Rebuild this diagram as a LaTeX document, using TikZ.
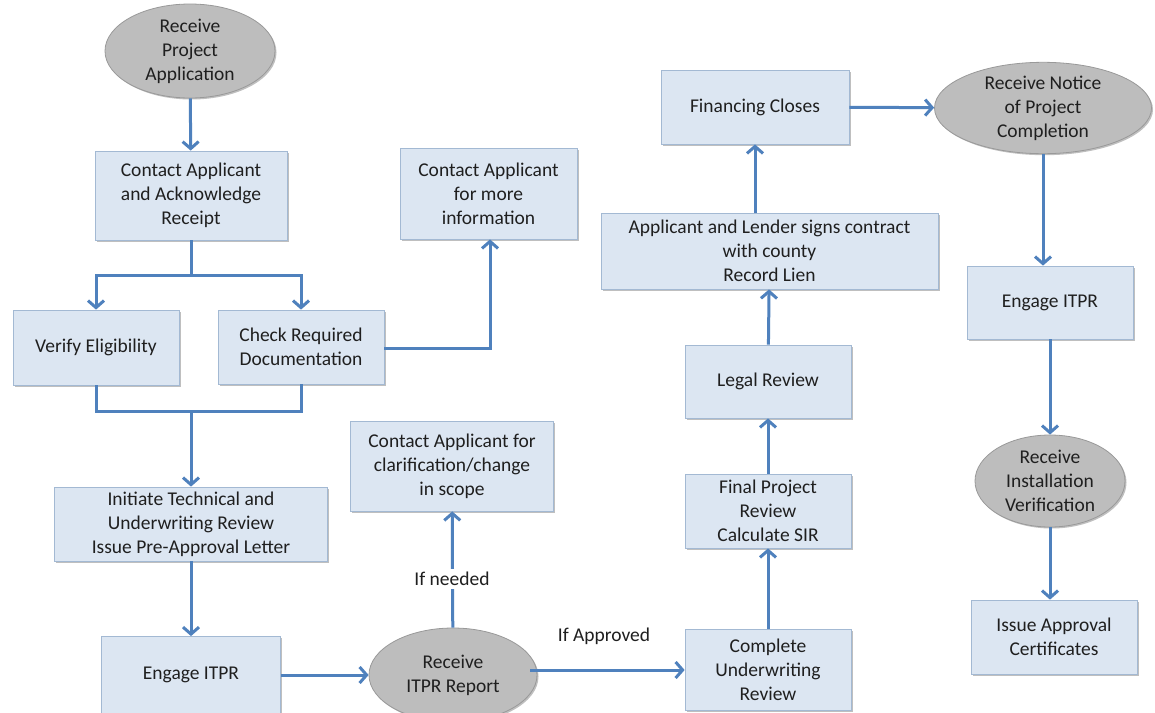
\documentclass[tikz,border=0pt]{standalone}
\usepackage{fontspec}
\setmainfont{Carlito}
\usetikzlibrary{arrows.meta,shapes.geometric,shadows}
\definecolor{boxfill}{HTML}{DCE6F2}
\definecolor{boxline}{HTML}{A3B9D3}
\definecolor{ellfill}{HTML}{BDBDBD}
\definecolor{ellline}{HTML}{999999}
\definecolor{arr}{HTML}{4F81BD}
\definecolor{txt}{HTML}{1F1F1F}
\begin{document}
\begin{tikzpicture}[x=1pt,y=-1pt,
 box/.style={rectangle, draw=boxline, fill=boxfill, line width=0.8pt, align=center, text=txt,
   font=\fontsize{19.5}{24}\selectfont, inner sep=0pt,
   drop shadow={shadow xshift=1.5pt, shadow yshift=-1.5pt, fill=black, opacity=0.25}},
 ev/.style={ellipse, draw=ellline, fill=ellfill, line width=0.8pt, align=center, text=txt,
   font=\fontsize{19.5}{24}\selectfont, inner sep=0pt,
   drop shadow={shadow xshift=1.5pt, shadow yshift=-1.5pt, fill=black, opacity=0.25}},
 flow/.style={draw=arr, line width=3pt, -{Straight Barb[length=7pt,width=16pt]}},
 link/.style={draw=arr, line width=3pt},
 lab/.style={font=\fontsize{19.5}{24}\selectfont, text=txt, fill=white, inner sep=3pt}
]
\useasboundingbox[fill=white] (0,0) rectangle (1155,712);

% left column
\node[ev, minimum width=170pt, minimum height=94pt] (rpa) at (190,51) {Receive\\Project\\Application};
\node[box, minimum width=192pt, minimum height=89pt] (contact) at (191,195.5) {Contact Applicant\\and Acknowledge\\Receipt};
\node[box, minimum width=166pt, minimum height=75pt] (verify) at (96,347.5) {Verify Eligibility};
\node[box, minimum width=166pt, minimum height=74pt] (check) at (301,347) {Check Required\\Documentation};
\node[box, minimum width=177pt, minimum height=91pt] (more) at (488.5,193.5) {Contact Applicant\\for more\\information};
\node[box, minimum width=273pt, minimum height=74pt] (init) at (191,524) {Initiate Technical and\\Underwriting Review\\Issue Pre-Approval Letter};
\node[box, minimum width=179pt, minimum height=77pt] (eng1) at (191,675) {Engage ITPR};
\node[ev, minimum width=168pt, minimum height=94pt] (itpr) at (453,675) {Receive\\ITPR Report};
\node[box, minimum width=203pt, minimum height=90pt] (clar) at (452,466) {Contact Applicant for\\clarification/change\\in scope};

% middle column
\node[box, minimum width=166pt, minimum height=81pt] (complete) at (768,669.5) {Complete\\Underwriting\\Review};
\node[box, minimum width=166pt, minimum height=74pt] (final) at (768,511) {Final Project\\Review\\Calculate SIR};
\node[box, minimum width=166pt, minimum height=73pt] (legal) at (768,381.5) {Legal Review};
\node[box, minimum width=337pt, minimum height=76pt] (sign) at (769.5,251) {Applicant and Lender signs contract\\with county\\Record Lien};
\node[box, minimum width=188pt, minimum height=74pt] (fin) at (755,107) {Financing Closes};

% right column
\node[ev, minimum width=217pt, minimum height=86pt] (notice) at (1043,108) {Receive Notice\\of Project\\Completion};
\node[box, minimum width=166pt, minimum height=73pt] (eng2) at (1050,302.5) {Engage ITPR};
\node[ev, minimum width=150pt, minimum height=92pt] (inst) at (1050,481) {Receive\\Installation\\Verification};
\node[box, minimum width=166pt, minimum height=74pt] (issue) at (1054,637) {Issue Approval\\Certificates};

% connectors left
\draw[flow] (rpa) -- (contact);
\coordinate (split) at (191,275);
\coordinate (sl) at (96,275);
\coordinate (sr) at (301,275);
\draw[link] (contact) -- (split);
\draw[flow] (split) -- (sl) -- (verify);
\draw[flow] (split) -- (sr) -- (check);
\coordinate (ml) at (96,411);
\coordinate (mr) at (301,411);
\coordinate (merge) at (191,411);
\draw[link] (verify) -- (ml) -- (mr) -- (check);
\draw[flow] (merge) -- (init);
\coordinate (mc) at (490,348);
\draw[flow] (check.east |- mc) -- (mc) -- (mc |- more.south);
\draw[flow] (init) -- (eng1);
\draw[flow] (eng1) -- (itpr);
\draw[flow] (itpr) -- (clar);
\node[lab] (ifn) at (452,579) {If needed};
\coordinate (ia) at (530,670);
\draw[flow] (ia) -- (complete.west |- ia);
\node[font=\fontsize{19.5}{24}\selectfont, text=txt] (ifa) at (604,636) {If Approved};

% middle
\draw[flow] (complete) -- (final);
\draw[flow] (final) -- (legal);
\draw[flow] (legal) -- (sign);
\draw[flow] (sign.north -| fin) -- (fin);
\draw[flow] (fin) -- (notice);

% right
\draw[flow] (notice) -- (notice |- eng2.north);
\draw[flow] (eng2) -- (inst);
\draw[flow] (inst) -- (inst |- issue.north);
\end{tikzpicture}
\end{document}
